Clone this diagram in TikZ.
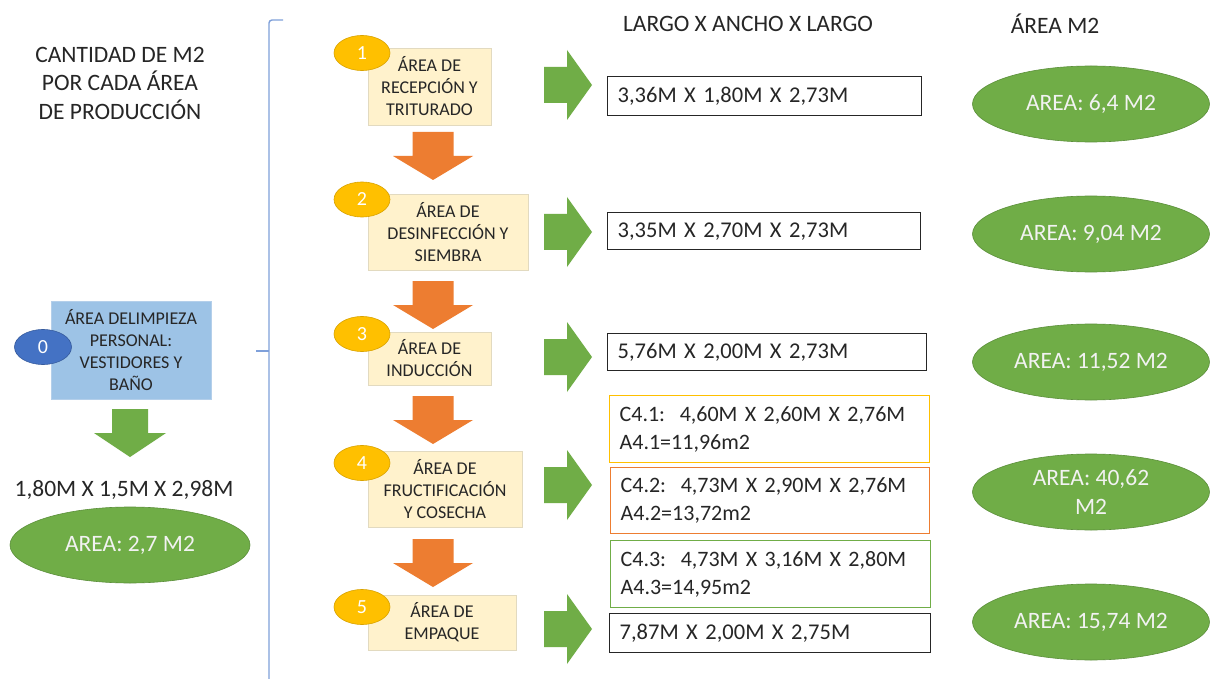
\documentclass[tikz,border=0pt]{standalone}
\usepackage{fontspec}
\setmainfont{Carlito}
\usetikzlibrary{shapes.geometric}
\definecolor{grn}{HTML}{70AD47}
\definecolor{grnd}{HTML}{5B8F3A}
\definecolor{org}{HTML}{ED7D31}
\definecolor{gold}{HTML}{FFC000}
\definecolor{goldd}{HTML}{D9A300}
\definecolor{cream}{HTML}{FFF2CC}
\definecolor{creamd}{HTML}{E2DAC0}
\definecolor{lblue}{HTML}{9DC3E6}
\definecolor{lblued}{HTML}{B4CFEA}
\definecolor{dblue}{HTML}{4472C4}
\definecolor{brk}{HTML}{7FA0DA}
\definecolor{txt}{HTML}{262626}
\definecolor{ellt}{HTML}{F2F2F2}
\newcommand\blockdown[6]{% color, cx, top, shaft half, head half, length
  \fill[#1] ({#2-#4},#3) -- ({#2+#4},#3) -- ({#2+#4},{#3+#6/2}) -- ({#2+#5},{#3+#6/2})
    -- (#2,{#3+#6}) -- ({#2-#5},{#3+#6/2}) -- ({#2-#4},{#3+#6/2}) -- cycle;}
\newcommand\blockright[7]{% color, left, cy, shaft half, head half, length, head start
  \fill[#1] (#2,{#3-#4}) -- ({#2+#7},{#3-#4}) -- ({#2+#7},{#3-#5}) -- ({#2+#6},#3)
    -- ({#2+#7},{#3+#5}) -- ({#2+#7},{#3+#4}) -- (#2,{#3+#4}) -- cycle;}
\begin{document}
\begin{tikzpicture}[x=1pt,y=-1pt,
  big/.style={font=\fontsize{23.5}{28.5}\selectfont},
  dimf/.style={font=\fontsize{22.5}{28}\selectfont},
  cf/.style={font=\fontsize{22}{28}\selectfont},
  small/.style={font=\fontsize{18}{22}\selectfont},
  area/.style={draw=creamd, fill=cream, line width=0.8pt, small, text=txt, align=center, inner sep=0pt},
  num/.style={ellipse, draw=goldd, fill=gold, line width=0.6pt, minimum width=56pt, minimum height=35pt, inner sep=0pt, text=white, font=\fontsize{20}{20}\selectfont},
  dimbox/.style={draw=#1, line width=1.3pt, dimf, text=txt, align=left, inner xsep=10pt, inner ysep=0pt, anchor=north west},
  res/.style={ellipse, draw=grnd, fill=grn, line width=0.6pt, minimum width=237pt, minimum height=76pt, inner sep=0pt, text=ellt, big, align=center},
  head/.style={big, text=txt, align=center, inner sep=0pt}]
\useasboundingbox (0,0) rectangle (1213,679);
\fill[white] (0,0) rectangle (1213,679);

% bracket
\draw[brk, line width=1.4pt, rounded corners=3pt] (283,20) -- (269,20) -- (269,690);
\draw[brk, line width=1.4pt] (256,351) -- (269,351);

% headers
\node[head] (title) at (120,83) {CANTIDAD DE M2\\POR CADA ÁREA\\DE PRODUCCIÓN};
\node[head] (h1) at (748,24) {LARGO X ANCHO X LARGO};
\node[head] (h2) at (1055,24) {ÁREA M2};

% left column
\node[draw=lblued, fill=lblue, line width=0.8pt, small, text=txt, align=center, inner sep=0pt,
  minimum width=160pt, minimum height=98pt] (a0) at (131,350) {ÁREA DELIMPIEZA\\PERSONAL:\\VESTIDORES Y\\BAÑO};
\node[ellipse, draw=dblue!80!black, fill=dblue, line width=0.6pt, minimum width=57pt, minimum height=35pt,
  inner sep=0pt, text=white, font=\fontsize{20}{20}\selectfont] (n0) at (43,347) {0};
\blockdown{grn}{130}{409}{18}{36}{48}
\node[head] (d0) at (124,490) {1,80M X 1,5M X 2,98M};
\node[res, minimum width=240pt] (r0) at (130,545) {AREA: 2,7 M2};

% process boxes
\node[area, minimum width=123pt, minimum height=77pt] (a1) at (429.5,86.5) {ÁREA DE\\RECEPCIÓN Y\\TRITURADO};
\node[area, minimum width=160pt, minimum height=76pt] (a2) at (448,232) {ÁREA DE\\DESINFECCIÓN Y\\SIEMBRA};
\node[area, minimum width=123pt, minimum height=53pt] (a3) at (429.5,358.5) {ÁREA DE\\INDUCCIÓN};
\node[area, minimum width=154pt, minimum height=76pt] (a4) at (445,489) {ÁREA DE\\FRUCTIFICACIÓN\\Y COSECHA};
\node[area, minimum width=148pt, minimum height=55pt] (a5) at (442,622.5) {ÁREA DE\\EMPAQUE};

\node[num] (n1) at (362,53) {1};
\node[num] (n2) at (362,199.5) {2};
\node[num] (n3) at (362,334) {3};
\node[num] (n4) at (362,463) {4};
\node[num] (n5) at (362,607) {5};

% orange arrows
\blockdown{org}{433}{132}{20.5}{40}{48}
\blockdown{org}{433}{281}{20.5}{40}{48}
\blockdown{org}{433}{396}{20.5}{40}{48}
\blockdown{org}{433}{539}{20.5}{40}{48}

% green right arrows
\blockright{grn}{544}{85}{18}{35}{48}{23}
\blockright{grn}{544}{232}{18}{35}{48}{23}
\blockright{grn}{544}{357}{18}{35}{48}{23}
\blockright{grn}{544}{485}{18}{35}{48}{23}
\blockright{grn}{544}{629}{18}{35}{48}{23}

% dimension boxes
\node[dimbox=txt, minimum width=314pt, text width=294pt, minimum height=39pt] (d1) at (607,76) {3,36M X 1,80M X 2,73M};
\node[dimbox=txt, minimum width=313pt, text width=293pt, minimum height=37pt] (d2) at (607,212) {3,35M X 2,70M X 2,73M};
\node[dimbox=txt, minimum width=319pt, text width=299pt, minimum height=37pt] (d3) at (607,333) {5,76M X 2,00M X 2,73M};
\node[dimbox=gold, cf, minimum width=320pt, text width=300pt, minimum height=67pt] (c1) at (609,395) {\mbox{C4.1:\ \ 4,60M X 2,60M X 2,76M}\\\mbox{A4.1=11,96m2}};
\node[dimbox=org, cf, minimum width=319pt, text width=299pt, minimum height=66pt] (c2) at (610,467) {\mbox{C4.2:\ \ 4,73M X 2,90M X 2,76M}\\\mbox{A4.2=13,72m2}};
\node[dimbox=grn, cf, minimum width=320pt, text width=300pt, minimum height=67pt] (c3) at (610,540) {\mbox{C4.3:\ \ 4,73M X 3,16M X 2,80M}\\\mbox{A4.3=14,95m2}};
\node[dimbox=txt, minimum width=321pt, text width=301pt, minimum height=39pt] (d5) at (609,613) {7,87M X 2,00M X 2,75M};

% result ellipses
\node[res] (r1) at (1091,104) {AREA: 6,4 M2};
\node[res] (r2) at (1091,234) {AREA: 9,04 M2};
\node[res] (r3) at (1091,362) {AREA: 11,52 M2};
\node[res] (r4) at (1091,492) {AREA: 40,62\\M2};
\node[res] (r5) at (1091,622) {AREA: 15,74 M2};
\end{tikzpicture}
\end{document}
